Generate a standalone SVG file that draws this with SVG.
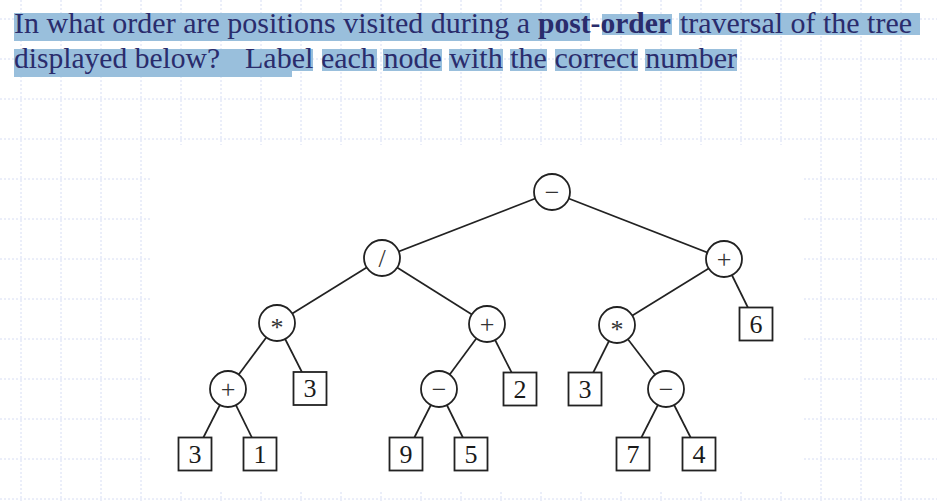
<svg xmlns="http://www.w3.org/2000/svg" width="937" height="501" viewBox="0 0 937 501">
<style>
.grid{stroke:#d6ddf4;stroke-width:1;stroke-dasharray:2 2;fill:none}
.hl{fill:#99bfdc}
.q{font-family:"Liberation Serif","Times New Roman",serif;font-size:29px;fill:#2a2c6c}
.b{font-weight:bold}
.edge{stroke:#222;stroke-width:1.7;fill:none}
.op{fill:#fff;stroke:#222;stroke-width:1.8}
.leaf{fill:#fff;stroke:#222;stroke-width:1.8}
.lbl{font-family:"Liberation Serif","Times New Roman",serif;font-size:26px;fill:#1a1a1a;text-anchor:middle}
.sym{font-family:"Liberation Serif","Times New Roman",serif;font-size:26px;fill:#333;text-anchor:middle}
</style>
<rect width="937" height="501" fill="#fff"/>
<g id="grid">
<path class="grid" d="M21 0V501M61 0V501M101 0V501M141 0V501M181 0V501M221 0V501M261 0V501M301 0V501M341 0V501M381 0V501M421 0V501M461 0V501M501 0V501M541 0V501M581 0V501M621 0V501M661 0V501M701 0V501M741 0V501M781 0V501M821 0V501M861 0V501M901 0V501"/>
<path class="grid" d="M0 19H937M0 59H937M0 99H937M0 139H937M0 179H937M0 219H937M0 259H937M0 299H937M0 339H937M0 379H937M0 419H937M0 459H937M0 499H937"/>
<rect x="150" y="145" width="653" height="345" fill="#fff"/>
</g>
<g id="question">
<rect class="hl" x="14" y="13" width="576" height="28"/>
<rect class="hl" x="602" y="14" width="70" height="21"/>
<rect class="hl" x="679" y="13" width="241" height="22"/>
<rect class="hl" x="14" y="49" width="278" height="28"/>
<rect class="hl" x="292" y="49" width="21" height="22"/>
<rect class="hl" x="322" y="49" width="55" height="22"/>
<rect class="hl" x="383" y="49" width="59" height="22"/>
<rect class="hl" x="449" y="49" width="54" height="22"/>
<rect class="hl" x="510" y="49" width="37" height="22"/>
<rect class="hl" x="555" y="49" width="83" height="22"/>
<rect class="hl" x="645" y="49" width="92" height="22"/>
<text class="q" x="14" y="33" textLength="516" lengthAdjust="spacingAndGlyphs">In what order are positions visited during a</text>
<text class="q b" x="538" y="33" textLength="133" lengthAdjust="spacingAndGlyphs">post-order</text>
<text class="q" x="680" y="33" textLength="232" lengthAdjust="spacingAndGlyphs">traversal of the tree</text>
<text class="q" x="14" y="68" textLength="206" lengthAdjust="spacingAndGlyphs">displayed below?</text>
<text class="q" x="245" y="68" textLength="492" lengthAdjust="spacingAndGlyphs">Label each node with the correct number</text>
</g>
<g id="edges">
<line class="edge" x1="552" y1="192" x2="382" y2="258"/>
<line class="edge" x1="552" y1="192" x2="724" y2="259"/>
<line class="edge" x1="382" y1="258" x2="277" y2="323"/>
<line class="edge" x1="382" y1="258" x2="487" y2="324"/>
<line class="edge" x1="724" y1="259" x2="617" y2="325"/>
<line class="edge" x1="724" y1="259" x2="756" y2="324"/>
<line class="edge" x1="277" y1="323" x2="228" y2="389"/>
<line class="edge" x1="277" y1="323" x2="310" y2="388"/>
<line class="edge" x1="487" y1="324" x2="439" y2="389"/>
<line class="edge" x1="487" y1="324" x2="520" y2="389"/>
<line class="edge" x1="617" y1="325" x2="585" y2="389"/>
<line class="edge" x1="617" y1="325" x2="666" y2="389"/>
<line class="edge" x1="228" y1="389" x2="195" y2="454"/>
<line class="edge" x1="228" y1="389" x2="260" y2="454"/>
<line class="edge" x1="439" y1="389" x2="406" y2="454"/>
<line class="edge" x1="439" y1="389" x2="471" y2="454"/>
<line class="edge" x1="666" y1="389" x2="633" y2="454"/>
<line class="edge" x1="666" y1="389" x2="699" y2="454"/>
</g>
<g id="n1"><circle class="op" cx="552" cy="192" r="18"/><text class="sym" x="552" y="201">−</text></g>
<g id="n2"><circle class="op" cx="382" cy="258" r="18"/><text class="sym" x="382" y="267">/</text></g>
<g id="n3"><circle class="op" cx="724" cy="259" r="18"/><text class="sym" x="724" y="268">+</text></g>
<g id="n4"><circle class="op" cx="277" cy="323" r="18"/><text class="sym" x="277" y="336">*</text></g>
<g id="n5"><circle class="op" cx="487" cy="324" r="18"/><text class="sym" x="487" y="333">+</text></g>
<g id="n6"><circle class="op" cx="617" cy="325" r="18"/><text class="sym" x="617" y="338">*</text></g>
<g id="n7"><rect class="leaf" x="739.5" y="307.5" width="33" height="33"/><text class="lbl" x="756" y="333">6</text></g>
<g id="n8"><circle class="op" cx="228" cy="389" r="18"/><text class="sym" x="228" y="398">+</text></g>
<g id="n9"><rect class="leaf" x="293.5" y="372" width="33" height="33"/><text class="lbl" x="310" y="397">3</text></g>
<g id="n10"><circle class="op" cx="439" cy="389" r="18"/><text class="sym" x="439" y="398">−</text></g>
<g id="n11"><rect class="leaf" x="503.5" y="372.5" width="33" height="33"/><text class="lbl" x="520" y="398">2</text></g>
<g id="n12"><rect class="leaf" x="568.5" y="372.5" width="33" height="33"/><text class="lbl" x="585" y="398">3</text></g>
<g id="n13"><circle class="op" cx="666" cy="389" r="18"/><text class="sym" x="666" y="398">−</text></g>
<g id="n14"><rect class="leaf" x="178.5" y="437.5" width="33" height="33"/><text class="lbl" x="195" y="463">3</text></g>
<g id="n15"><rect class="leaf" x="243.5" y="437.5" width="33" height="33"/><text class="lbl" x="260" y="463">1</text></g>
<g id="n16"><rect class="leaf" x="389.5" y="437.5" width="33" height="33"/><text class="lbl" x="406" y="463">9</text></g>
<g id="n17"><rect class="leaf" x="454.5" y="437.5" width="33" height="33"/><text class="lbl" x="471" y="463">5</text></g>
<g id="n18"><rect class="leaf" x="616.5" y="437.5" width="33" height="33"/><text class="lbl" x="633" y="463">7</text></g>
<g id="n19"><rect class="leaf" x="682.5" y="437.5" width="33" height="33"/><text class="lbl" x="699" y="463">4</text></g>
</svg>
